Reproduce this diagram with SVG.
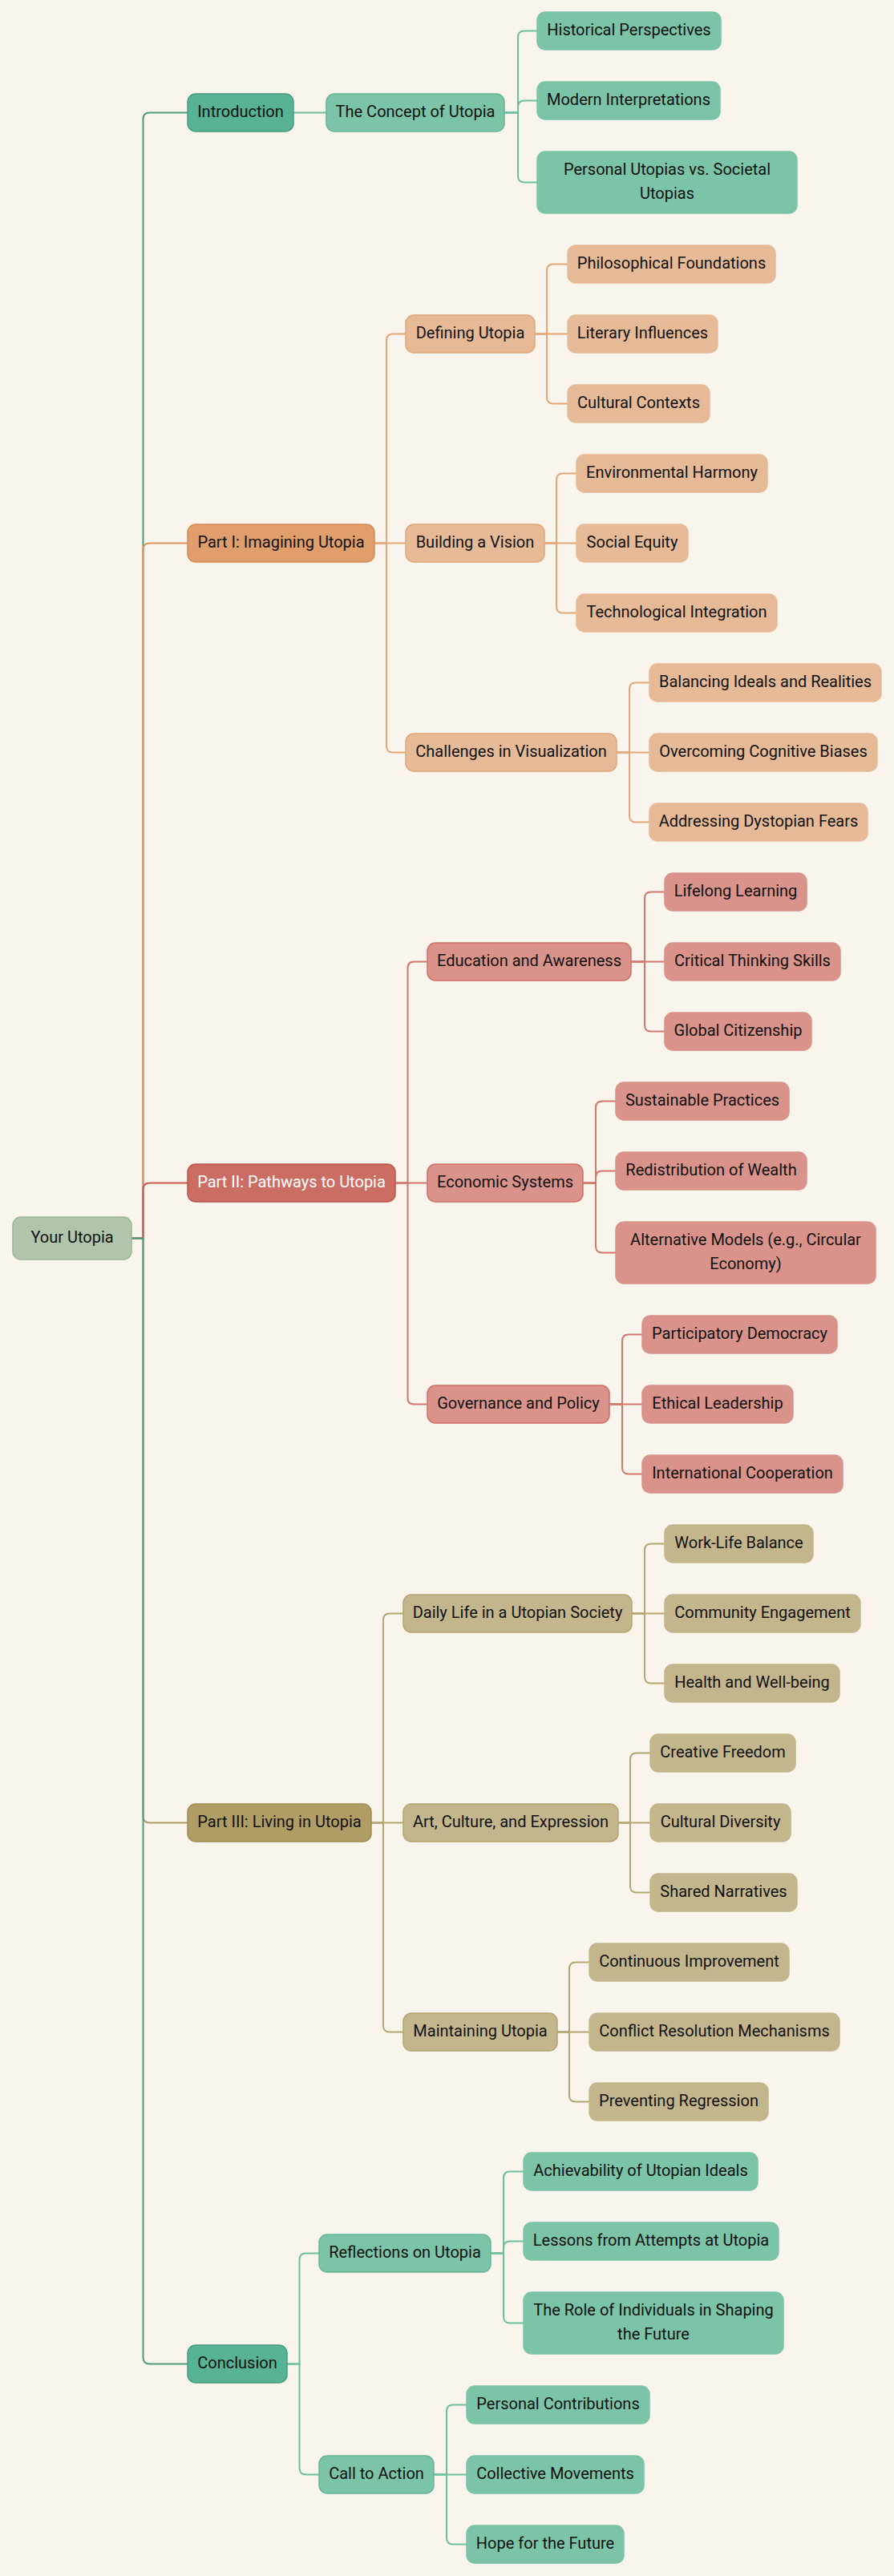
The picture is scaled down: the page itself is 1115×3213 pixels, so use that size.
<svg xmlns="http://www.w3.org/2000/svg" width="1115" height="3213" viewBox="0 0 1115 3213">
<style>
.bg{fill:#F9F5ED}
rect{rx:10px;ry:10px;stroke-width:1.5}
.root{fill:#B0C5AB;stroke:#9DB598}
.g1{fill:#57B393;stroke:#479C7D}
.g2{fill:#7BC4A8;stroke:#67B597}
.g3{fill:#7BC4A8;stroke:#7BC4A8}
.o1{fill:#E09E6D;stroke:#D98B52}
.o2{fill:#E6BA96;stroke:#E2A677}
.o3{fill:#E6BA96;stroke:#E6BA96}
.r1{fill:#CC6D64;stroke:#C2534B}
.r2{fill:#D9938A;stroke:#CF6F66}
.r3{fill:#D9938A;stroke:#D9938A}
.t1{fill:#B09D65;stroke:#A08D52}
.t2{fill:#C4B68C;stroke:#B5A470}
.t3{fill:#C4B68C;stroke:#C4B68C}
text{font-family:Roboto,"Liberation Sans",sans-serif;font-size:20px;fill:#111;text-anchor:middle}
text.w{fill:#FFFFFF}
path{fill:none;stroke-width:2}
.cg0{stroke:#4A9C7C}.cg{stroke:#6CBF9E}
.co0{stroke:#E0955D}.co{stroke:#E4A577}
.cr0{stroke:#C85A50}.cr{stroke:#D4766E}
.ct0{stroke:#AD9A62}.ct{stroke:#B6A572}
</style>
<rect class="bg" x="0" y="0" width="1115" height="3213" style="rx:0;ry:0"/>
<g id="connectors">
<path class="cg0" d="M164,1544.5 H178.5 V148.5 Q178.5,140.5 186.5,140.5 H234"/>
<path class="co0" d="M164,1544.5 H178.5 V685.5 Q178.5,677.5 186.5,677.5 H234"/>
<path class="cr0" d="M164,1544.5 H178.5 V1483.5 Q178.5,1475.5 186.5,1475.5 H234"/>
<path class="ct0" d="M164,1544.5 H178.5 V2265.5 Q178.5,2273.5 186.5,2273.5 H234"/>
<path class="cg0" d="M164,1544.5 H178.5 V2940.5 Q178.5,2948.5 186.5,2948.5 H234"/>
<path class="cg" d="M366,140.5 H407"/>
<path class="cg" d="M629,140.5 H646 V46.5 Q646,38.5 654,38.5 H670"/>
<path class="cg" d="M629,140.5 H646 V133.5 Q646,125.5 654,125.5 H670"/>
<path class="cg" d="M629,140.5 H646 V219.5 Q646,227.5 654,227.5 H670"/>
<path class="co" d="M467,677.5 H482 V424.5 Q482,416.5 490,416.5 H506"/>
<path class="co" d="M467,677.5 H506"/>
<path class="co" d="M467,677.5 H482 V930.5 Q482,938.5 490,938.5 H506"/>
<path class="co" d="M667,416.5 H682 V337.5 Q682,329.5 690,329.5 H708"/>
<path class="co" d="M667,416.5 H708"/>
<path class="co" d="M667,416.5 H682 V495.5 Q682,503.5 690,503.5 H708"/>
<path class="co" d="M679,677.5 H694 V598.5 Q694,590.5 702,590.5 H719"/>
<path class="co" d="M679,677.5 H719"/>
<path class="co" d="M679,677.5 H694 V756.5 Q694,764.5 702,764.5 H719"/>
<path class="co" d="M769,938.5 H785 V859.5 Q785,851.5 793,851.5 H810"/>
<path class="co" d="M769,938.5 H810"/>
<path class="co" d="M769,938.5 H785 V1017.5 Q785,1025.5 793,1025.5 H810"/>
<path class="cr" d="M493,1475.5 H508.5 V1207.5 Q508.5,1199.5 516.5,1199.5 H533"/>
<path class="cr" d="M493,1475.5 H533"/>
<path class="cr" d="M493,1475.5 H508.5 V1743.5 Q508.5,1751.5 516.5,1751.5 H533"/>
<path class="cr" d="M787,1199.5 H804 V1120.5 Q804,1112.5 812,1112.5 H829"/>
<path class="cr" d="M787,1199.5 H829"/>
<path class="cr" d="M787,1199.5 H804 V1278.5 Q804,1286.5 812,1286.5 H829"/>
<path class="cr" d="M727,1475.5 H743 V1381.5 Q743,1373.5 751,1373.5 H768"/>
<path class="cr" d="M727,1475.5 H743 V1468.5 Q743,1460.5 751,1460.5 H768"/>
<path class="cr" d="M727,1475.5 H743 V1554.5 Q743,1562.5 751,1562.5 H768"/>
<path class="cr" d="M760,1751.5 H776 V1672.5 Q776,1664.5 784,1664.5 H801"/>
<path class="cr" d="M760,1751.5 H801"/>
<path class="cr" d="M760,1751.5 H776 V1830.5 Q776,1838.5 784,1838.5 H801"/>
<path class="ct" d="M463,2273.5 H478 V2020.5 Q478,2012.5 486,2012.5 H503"/>
<path class="ct" d="M463,2273.5 H503"/>
<path class="ct" d="M463,2273.5 H478 V2526.5 Q478,2534.5 486,2534.5 H503"/>
<path class="ct" d="M788,2012.5 H804 V1933.5 Q804,1925.5 812,1925.5 H829"/>
<path class="ct" d="M788,2012.5 H829"/>
<path class="ct" d="M788,2012.5 H804 V2091.5 Q804,2099.5 812,2099.5 H829"/>
<path class="ct" d="M771,2273.5 H786 V2194.5 Q786,2186.5 794,2186.5 H811"/>
<path class="ct" d="M771,2273.5 H811"/>
<path class="ct" d="M771,2273.5 H786 V2352.5 Q786,2360.5 794,2360.5 H811"/>
<path class="ct" d="M695,2534.5 H710 V2455.5 Q710,2447.5 718,2447.5 H735"/>
<path class="ct" d="M695,2534.5 H735"/>
<path class="ct" d="M695,2534.5 H710 V2613.5 Q710,2621.5 718,2621.5 H735"/>
<path class="cg" d="M358,2948.5 H373.5 V2818.5 Q373.5,2810.5 381.5,2810.5 H398"/>
<path class="cg" d="M358,2948.5 H373.5 V3078.5 Q373.5,3086.5 381.5,3086.5 H398"/>
<path class="cg" d="M612,2810.5 H628 V2716.5 Q628,2708.5 636,2708.5 H653"/>
<path class="cg" d="M612,2810.5 H628 V2803.5 Q628,2795.5 636,2795.5 H653"/>
<path class="cg" d="M612,2810.5 H628 V2889.5 Q628,2897.5 636,2897.5 H653"/>
<path class="cg" d="M541,3086.5 H557 V3007.5 Q557,2999.5 565,2999.5 H582"/>
<path class="cg" d="M541,3086.5 H582"/>
<path class="cg" d="M541,3086.5 H557 V3165.5 Q557,3173.5 565,3173.5 H582"/>
</g>
<g id="n-root"><rect class="root" x="16" y="1518" width="148" height="53"/><text x="90" y="1549.5">Your Utopia</text></g>
<g id="n-intro"><rect class="g1" x="234" y="117" width="132" height="47"/><text x="300" y="145.5">Introduction</text></g>
<g id="n-concept"><rect class="g2" x="407" y="117" width="222" height="47"/><text x="518" y="145.5">The Concept of Utopia</text></g>
<g id="n-historical"><rect class="g3" x="670" y="15" width="229" height="47"/><text x="784.5" y="43.5">Historical Perspectives</text></g>
<g id="n-modern"><rect class="g3" x="670" y="102" width="228" height="47"/><text x="784" y="130.5">Modern Interpretations</text></g>
<g id="n-personal-utopias"><rect class="g3" x="670" y="189" width="324" height="77"/><text x="832" y="217.5">Personal Utopias vs. Societal</text><text x="832" y="247.5">Utopias</text></g>
<g id="n-part1"><rect class="o1" x="234" y="654" width="233" height="47"/><text x="350.5" y="682.5">Part I: Imagining Utopia</text></g>
<g id="n-defining"><rect class="o2" x="506" y="393" width="161" height="47"/><text x="586.5" y="421.5">Defining Utopia</text></g>
<g id="n-philosophical"><rect class="o3" x="708" y="306" width="259" height="47"/><text x="837.5" y="334.5">Philosophical Foundations</text></g>
<g id="n-literary"><rect class="o3" x="708" y="393" width="187" height="47"/><text x="801.5" y="421.5">Literary Influences</text></g>
<g id="n-cultural-contexts"><rect class="o3" x="708" y="480" width="177" height="47"/><text x="796.5" y="508.5">Cultural Contexts</text></g>
<g id="n-building"><rect class="o2" x="506" y="654" width="173" height="47"/><text x="592.5" y="682.5">Building a Vision</text></g>
<g id="n-environmental"><rect class="o3" x="719" y="567" width="238" height="47"/><text x="838" y="595.5">Environmental Harmony</text></g>
<g id="n-social"><rect class="o3" x="719" y="654" width="139" height="47"/><text x="788.5" y="682.5">Social Equity</text></g>
<g id="n-technological"><rect class="o3" x="719" y="741" width="250" height="47"/><text x="844" y="769.5">Technological Integration</text></g>
<g id="n-challenges"><rect class="o2" x="506" y="915" width="263" height="47"/><text x="637.5" y="943.5">Challenges in Visualization</text></g>
<g id="n-balancing"><rect class="o3" x="810" y="828" width="289" height="47"/><text x="954.5" y="856.5">Balancing Ideals and Realities</text></g>
<g id="n-overcoming"><rect class="o3" x="810" y="915" width="284" height="47"/><text x="952" y="943.5">Overcoming Cognitive Biases</text></g>
<g id="n-addressing"><rect class="o3" x="810" y="1002" width="272" height="47"/><text x="946" y="1030.5">Addressing Dystopian Fears</text></g>
<g id="n-part2"><rect class="r1" x="234" y="1452" width="259" height="47"/><text class="w" x="363.5" y="1480.5">Part II: Pathways to Utopia</text></g>
<g id="n-education"><rect class="r2" x="533" y="1176" width="254" height="47"/><text x="660" y="1204.5">Education and Awareness</text></g>
<g id="n-lifelong"><rect class="r3" x="829" y="1089" width="177" height="47"/><text x="917.5" y="1117.5">Lifelong Learning</text></g>
<g id="n-critical"><rect class="r3" x="829" y="1176" width="219" height="47"/><text x="938.5" y="1204.5">Critical Thinking Skills</text></g>
<g id="n-global"><rect class="r3" x="829" y="1263" width="183" height="47"/><text x="920.5" y="1291.5">Global Citizenship</text></g>
<g id="n-economic"><rect class="r2" x="533" y="1452" width="194" height="47"/><text x="630" y="1480.5">Economic Systems</text></g>
<g id="n-sustainable"><rect class="r3" x="768" y="1350" width="216" height="47"/><text x="876" y="1378.5">Sustainable Practices</text></g>
<g id="n-redistribution"><rect class="r3" x="768" y="1437" width="238" height="47"/><text x="887" y="1465.5">Redistribution of Wealth</text></g>
<g id="n-alternative"><rect class="r3" x="768" y="1524" width="324" height="77"/><text x="930" y="1552.5">Alternative Models (e.g., Circular</text><text x="930" y="1582.5">Economy)</text></g>
<g id="n-governance"><rect class="r2" x="533" y="1728" width="227" height="47"/><text x="646.5" y="1756.5">Governance and Policy</text></g>
<g id="n-participatory"><rect class="r3" x="801" y="1641" width="243" height="47"/><text x="922.5" y="1669.5">Participatory Democracy</text></g>
<g id="n-ethical"><rect class="r3" x="801" y="1728" width="188" height="47"/><text x="895" y="1756.5">Ethical Leadership</text></g>
<g id="n-international"><rect class="r3" x="801" y="1815" width="250" height="47"/><text x="926" y="1843.5">International Cooperation</text></g>
<g id="n-part3"><rect class="t1" x="234" y="2250" width="229" height="47"/><text x="348.5" y="2278.5">Part III: Living in Utopia</text></g>
<g id="n-daily"><rect class="t2" x="503" y="1989" width="285" height="47"/><text x="645.5" y="2017.5">Daily Life in a Utopian Society</text></g>
<g id="n-worklife"><rect class="t3" x="829" y="1902" width="185" height="47"/><text x="921.5" y="1930.5">Work-Life Balance</text></g>
<g id="n-community"><rect class="t3" x="829" y="1989" width="244" height="47"/><text x="951" y="2017.5">Community Engagement</text></g>
<g id="n-health"><rect class="t3" x="829" y="2076" width="218" height="47"/><text x="938" y="2104.5">Health and Well-being</text></g>
<g id="n-art"><rect class="t2" x="503" y="2250" width="268" height="47"/><text x="637" y="2278.5">Art, Culture, and Expression</text></g>
<g id="n-creative"><rect class="t3" x="811" y="2163" width="181" height="47"/><text x="901.5" y="2191.5">Creative Freedom</text></g>
<g id="n-diversity"><rect class="t3" x="811" y="2250" width="175" height="47"/><text x="898.5" y="2278.5">Cultural Diversity</text></g>
<g id="n-shared"><rect class="t3" x="811" y="2337" width="183" height="47"/><text x="902.5" y="2365.5">Shared Narratives</text></g>
<g id="n-maintaining"><rect class="t2" x="503" y="2511" width="192" height="47"/><text x="599" y="2539.5">Maintaining Utopia</text></g>
<g id="n-continuous"><rect class="t3" x="735" y="2424" width="249" height="47"/><text x="859.5" y="2452.5">Continuous Improvement</text></g>
<g id="n-conflict"><rect class="t3" x="735" y="2511" width="312" height="47"/><text x="891" y="2539.5">Conflict Resolution Mechanisms</text></g>
<g id="n-preventing"><rect class="t3" x="735" y="2598" width="223" height="47"/><text x="846.5" y="2626.5">Preventing Regression</text></g>
<g id="n-conclusion"><rect class="g1" x="234" y="2925" width="124" height="47"/><text x="296" y="2953.5">Conclusion</text></g>
<g id="n-reflections"><rect class="g2" x="398" y="2787" width="214" height="47"/><text x="505" y="2815.5">Reflections on Utopia</text></g>
<g id="n-achievability"><rect class="g3" x="653" y="2685" width="292" height="47"/><text x="799" y="2713.5">Achievability of Utopian Ideals</text></g>
<g id="n-lessons"><rect class="g3" x="653" y="2772" width="318" height="47"/><text x="812" y="2800.5">Lessons from Attempts at Utopia</text></g>
<g id="n-role"><rect class="g3" x="653" y="2859" width="324" height="77"/><text x="815" y="2887.5">The Role of Individuals in Shaping</text><text x="815" y="2917.5">the Future</text></g>
<g id="n-call"><rect class="g2" x="398" y="3063" width="143" height="47"/><text x="469.5" y="3091.5">Call to Action</text></g>
<g id="n-personal-contrib"><rect class="g3" x="582" y="2976" width="228" height="47"/><text x="696" y="3004.5">Personal Contributions</text></g>
<g id="n-collective"><rect class="g3" x="582" y="3063" width="221" height="47"/><text x="692.5" y="3091.5">Collective Movements</text></g>
<g id="n-hope"><rect class="g3" x="582" y="3150" width="196" height="47"/><text x="680" y="3178.5">Hope for the Future</text></g>
</svg>
